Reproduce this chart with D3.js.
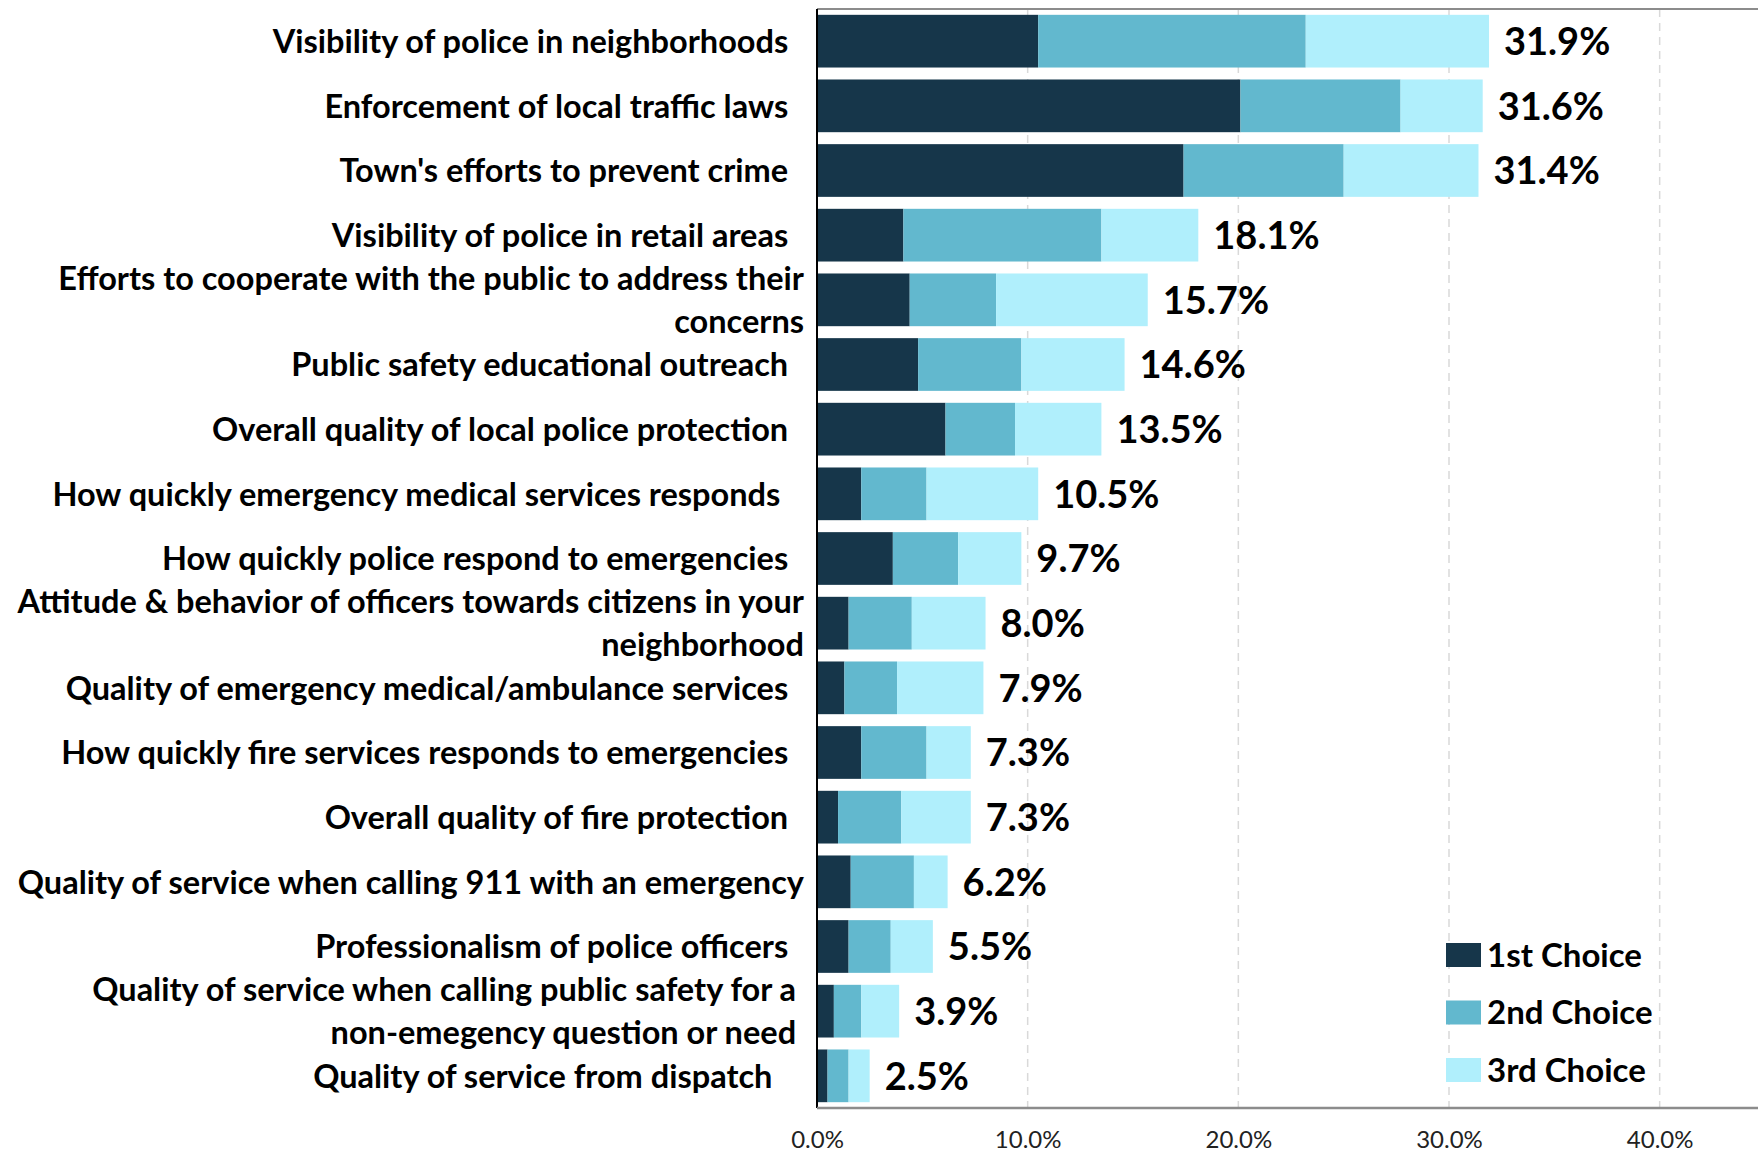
<!DOCTYPE html>
<html>
<head>
<meta charset="utf-8">
<script src="https://cdn.jsdelivr.net/npm/d3@7"></script>
<style>
  html, body { margin: 0; padding: 0; background: #fff; }
  svg { display: block; }
</style>
</head>
<body>
<svg id="chart" width="1758" height="1152"></svg>
<script>
const categories = [
  "Visibility of police in neighborhoods  ",
  "Enforcement of local traffic laws  ",
  "Town's efforts to prevent crime  ",
  "Visibility of police in retail areas  ",
  "Efforts to cooperate with the public to address their\nconcerns",
  "Public safety educational outreach  ",
  "Overall quality of local police protection  ",
  "How quickly emergency medical services responds   ",
  "How quickly police respond to emergencies  ",
  "Attitude & behavior of officers towards citizens in your\nneighborhood",
  "Quality of emergency medical/ambulance services  ",
  "How quickly fire services responds to emergencies  ",
  "Overall quality of fire protection  ",
  "Quality of service when calling 911 with an emergency",
  "Professionalism of police officers  ",
  "Quality of service when calling public safety for a \nnon-emegency question or need ",
  "Quality of service from dispatch    "
];
const firstChoice  = [10.5, 20.1, 17.4, 4.1, 4.4, 4.8, 6.1, 2.1, 3.6, 1.5, 1.3, 2.1, 1.0, 1.6, 1.5, 0.8, 0.5];
const secondChoice = [12.7, 7.6, 7.6, 9.4, 4.1, 4.9, 3.3, 3.1, 3.1, 3.0, 2.5, 3.1, 3.0, 3.0, 2.0, 1.3, 1.0];
const thirdChoice  = [8.7, 3.9, 6.4, 4.6, 7.2, 4.9, 4.1, 5.3, 3.0, 3.5, 4.1, 2.1, 3.3, 1.6, 2.0, 1.8, 1.0];
const seriesNames = ["1st Choice", "2nd Choice", "3rd Choice"];
const seriesColors = ["#16364a", "#62b8ce", "#b0effc"];
const tickValues = [0, 10, 20, 30, 40];

const svg = d3.select("#chart");
const FONT = "Lato, 'Open Sans', sans-serif";

const rows = categories.map((c, i) => ({
  cat: c,
  vals: [firstChoice[i], secondChoice[i], thirdChoice[i]],
  total: firstChoice[i] + secondChoice[i] + thirdChoice[i]
}));

const x = d3.scaleLinear().domain([0, 45]).range([817, 1765]);
const y = d3.scaleBand().domain(categories).range([9, 1108]).paddingInner(0.185).paddingOuter(0.09);

// gridlines
svg.append("g").selectAll("line").data(tickValues.filter(d => d > 0)).join("line")
  .attr("x1", d => x(d)).attr("x2", d => x(d))
  .attr("y1", 9).attr("y2", 1108)
  .attr("stroke", "#d9d9d9").attr("stroke-width", 1.5)
  .attr("stroke-dasharray", "8,6");

// top border
svg.append("line").attr("x1", x(0)).attr("x2", 1758).attr("y1", 9).attr("y2", 9)
  .attr("stroke", "#8c8c8c").attr("stroke-width", 2);

// stacked bars
const stack = d3.stack().keys([0, 1, 2]).value((d, k) => d.vals[k]);
const stacked = stack(rows);
svg.append("g").selectAll("g").data(stacked).join("g")
  .attr("fill", (d, i) => seriesColors[i])
  .selectAll("rect").data(d => d).join("rect")
  .attr("x", d => x(d[0]))
  .attr("width", d => x(d[1]) - x(d[0]))
  .attr("y", d => y(d.data.cat))
  .attr("height", y.bandwidth());

// total labels
svg.append("g").selectAll("text").data(rows).join("text")
  .attr("x", d => x(d.total) + 15)
  .attr("y", d => y(d.cat) + y.bandwidth() / 2)
  .attr("dy", "0.36em")
  .attr("font-family", FONT).attr("font-weight", 700).attr("font-size", 38)
  .attr("fill", "#000")
  .text(d => d3.format(".1f")(d.total) + "%");

// category labels
const labelG = svg.append("g");
rows.forEach(r => {
  const lines = r.cat.split("\n");
  const lh = 43;
  const cy = y(r.cat) + y.bandwidth() / 2;
  const t = labelG.append("text")
    .attr("x", 804)
    .attr("text-anchor", "end")
    .attr("font-family", FONT).attr("font-weight", 700).attr("font-size", 32.5)
    .attr("fill", "#000")
    .attr("xml:space", "preserve")
    .style("white-space", "pre");
  lines.forEach((ln, j) => {
    t.append("tspan")
      .attr("x", 804)
      .attr("y", cy + (j - (lines.length - 1) / 2) * lh)
      .attr("dy", "0.36em")
      .text(ln);
  });
});

// left axis line
svg.append("line").attr("x1", x(0)).attr("x2", x(0)).attr("y1", 9).attr("y2", 1108)
  .attr("stroke", "#000").attr("stroke-width", 2);

// bottom axis
const xAxis = d3.axisBottom(x).tickValues(tickValues).tickSize(0).tickPadding(23)
  .tickFormat(d => d3.format(".1f")(d) + "%");
const ax = svg.append("g").attr("transform", "translate(0,1108)").call(xAxis);
ax.select(".domain").attr("stroke", "#8c8c8c").attr("stroke-width", 2.5)
  .attr("d", `M${x(0)},0H1758`);
ax.selectAll("text").attr("font-family", FONT).attr("font-size", 24).attr("fill", "#222");

// legend
const leg = svg.append("g").selectAll("g").data(seriesNames).join("g")
  .attr("transform", (d, i) => `translate(1446, ${943 + i * 57.5})`);
leg.append("rect").attr("width", 35).attr("height", 24).attr("fill", (d, i) => seriesColors[i]);
leg.append("text").attr("x", 41).attr("y", 12).attr("dy", "0.36em")
  .attr("font-family", FONT).attr("font-weight", 700).attr("font-size", 33).attr("fill", "#000")
  .text(d => d);
</script>
</body>
</html>
